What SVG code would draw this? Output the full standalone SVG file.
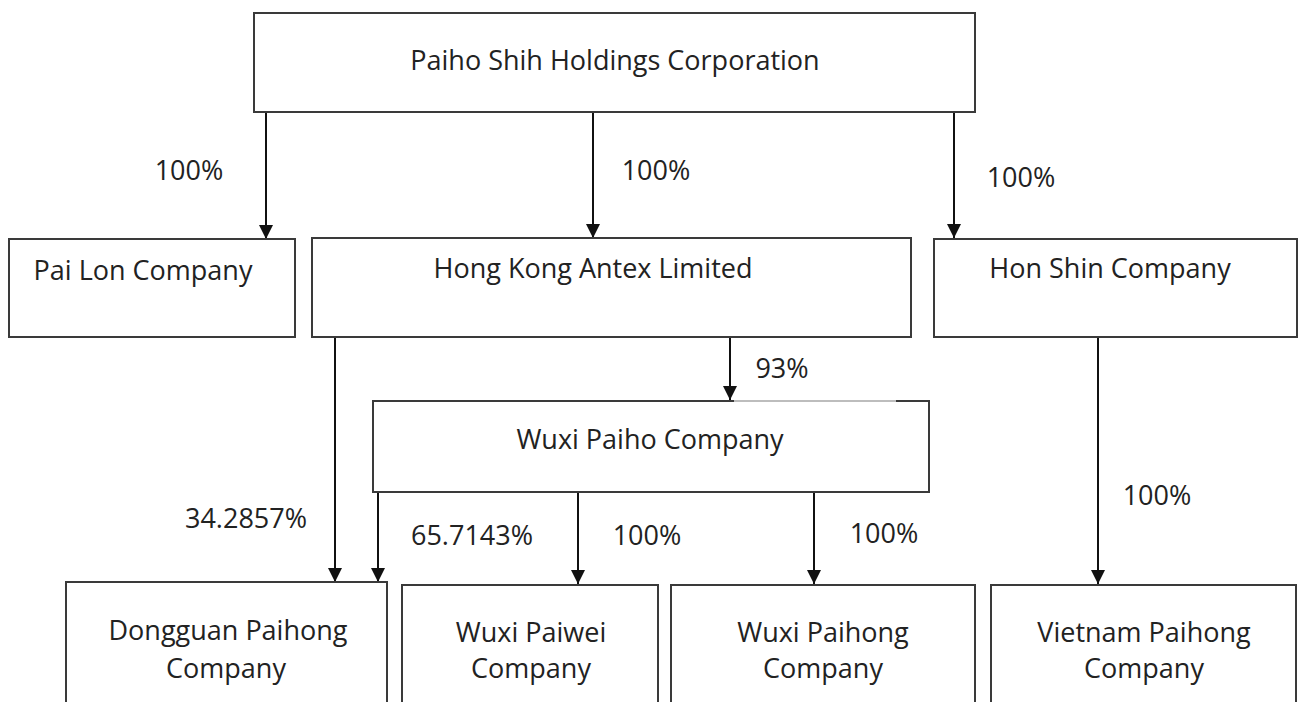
<svg xmlns="http://www.w3.org/2000/svg" width="1299" height="702" viewBox="0 0 1299 702">
<style>
.box{fill:#fff;stroke:#3a3a3a;stroke-width:2}
.t{font-family:"Open Sans","Liberation Sans",sans-serif;font-size:27px;fill:#222;text-anchor:middle}
.c{stroke:#111;stroke-width:2;fill:none;marker-end:url(#ah)}
</style>
<defs>
<marker id="ah" viewBox="0 0 14 14" refX="14" refY="7" markerWidth="14" markerHeight="14" orient="auto" markerUnits="userSpaceOnUse">
<path d="M0,0 L14,7 L0,14 z" fill="#111"/>
</marker>
</defs>
<rect width="1299" height="702" fill="#fff"/>
<g id="connectors">
<line class="c" x1="266" y1="112" x2="266" y2="239"/>
<line class="c" x1="593" y1="112" x2="593" y2="238"/>
<line class="c" x1="954" y1="112" x2="954" y2="238"/>
<line class="c" x1="730" y1="337" x2="730" y2="400"/>
<line class="c" x1="335" y1="337" x2="335" y2="582"/>
<line class="c" x1="378" y1="492" x2="378" y2="582"/>
<line class="c" x1="578" y1="492" x2="578" y2="584"/>
<line class="c" x1="814" y1="492" x2="814" y2="584"/>
<line class="c" x1="1098" y1="338" x2="1098" y2="584"/>
<text class="t" x="189" y="180">100%</text>
<text class="t" x="656" y="180">100%</text>
<text class="t" x="1021" y="187">100%</text>
<text class="t" x="782" y="378">93%</text>
<text class="t" x="246" y="528">34.2857%</text>
<text class="t" x="472" y="545">65.7143%</text>
<text class="t" x="647" y="545">100%</text>
<text class="t" x="884" y="543">100%</text>
<text class="t" x="1157" y="505">100%</text>
</g>
<g id="paiho-shih">
<rect class="box" x="254" y="13" width="721" height="99"/>
<text class="t" x="615" y="70">Paiho Shih Holdings Corporation</text>
</g>
<g id="pai-lon">
<rect class="box" x="9" y="239" width="286" height="98"/>
<text class="t" x="143" y="280">Pai Lon Company</text>
</g>
<g id="hk-antex">
<rect class="box" x="312" y="238" width="599" height="99"/>
<text class="t" x="593" y="278">Hong Kong Antex Limited</text>
</g>
<g id="hon-shin">
<rect class="box" x="934" y="239" width="363" height="98"/>
<text class="t" x="1110" y="278">Hon Shin Company</text>
</g>
<g id="wuxi-paiho">
<rect class="box" x="373" y="401" width="556" height="91"/>
<line x1="734" y1="401" x2="896" y2="401" stroke="#bdbdbd" stroke-width="2"/>
<text class="t" x="650" y="449">Wuxi Paiho Company</text>
</g>
<g id="dongguan">
<rect class="box" x="66" y="582" width="321" height="140"/>
<text class="t" x="228" y="640">Dongguan Paihong</text>
<text class="t" x="226" y="678">Company</text>
</g>
<g id="wuxi-paiwei">
<rect class="box" x="402" y="585" width="256" height="140"/>
<text class="t" x="531" y="642">Wuxi Paiwei</text>
<text class="t" x="531" y="678">Company</text>
</g>
<g id="wuxi-paihong">
<rect class="box" x="671" y="585" width="304" height="140"/>
<text class="t" x="823" y="642">Wuxi Paihong</text>
<text class="t" x="823" y="678">Company</text>
</g>
<g id="vietnam-paihong">
<rect class="box" x="991" y="585" width="305" height="140"/>
<text class="t" x="1144" y="642">Vietnam Paihong</text>
<text class="t" x="1144" y="678">Company</text>
</g>
</svg>
